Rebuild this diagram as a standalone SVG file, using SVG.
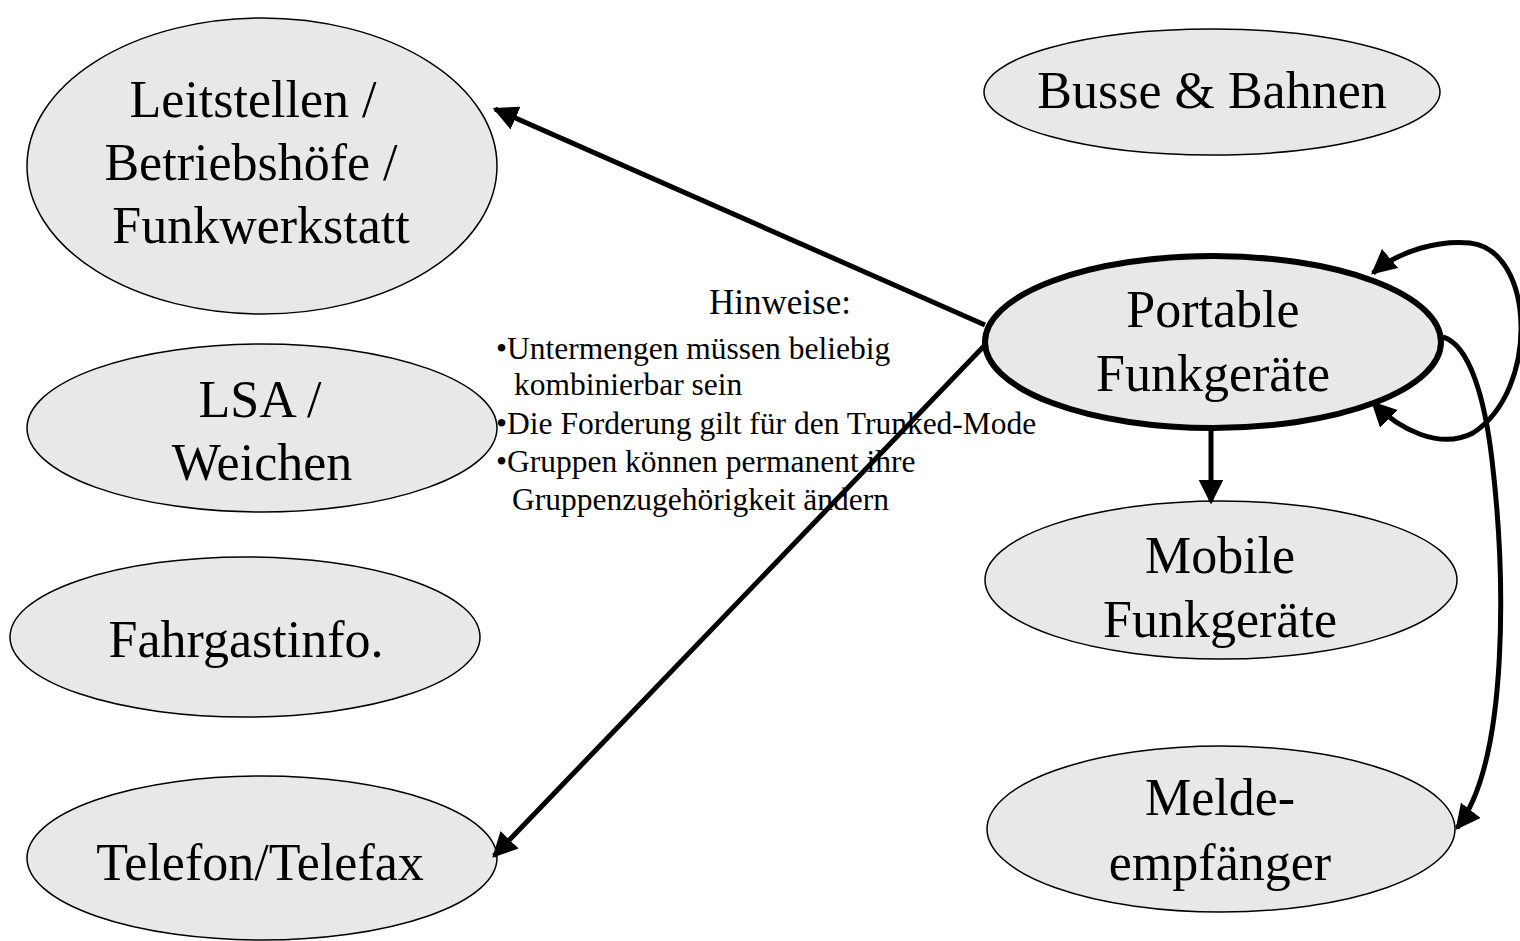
<svg xmlns="http://www.w3.org/2000/svg" width="1520" height="941" viewBox="0 0 1520 941">
<style>
.n{fill:#e8e8e8;stroke:#000;stroke-width:1.5}
.thick{stroke-width:6}
.t{font-family:"Liberation Serif",serif;font-size:52px;text-anchor:middle;fill:#000}
.s{font-family:"Liberation Serif",serif;font-size:31.5px;fill:#000}
.c{fill:none;stroke:#000;stroke-width:5}
</style>
<defs>
<marker id="a" viewBox="0 0 10 10" refX="9" refY="5" markerWidth="5" markerHeight="5" orient="auto-start-reverse" markerUnits="strokeWidth">
<path d="M0,0 L10,5 L0,10 z" fill="#000"/>
</marker>
</defs>
<g id="leitstellen"><ellipse class="n" cx="262" cy="166" rx="235" ry="148"/>
<text class="t" x="253" y="117">Leitstellen /</text><text class="t" x="251" y="180">Betriebshöfe /</text><text class="t" x="261" y="243">Funkwerkstatt</text></g>
<g id="busse"><ellipse class="n" cx="1212" cy="92" rx="228" ry="63"/>
<text class="t" x="1212" y="108">Busse &amp; Bahnen</text></g>
<g id="lsa"><ellipse class="n" cx="262" cy="428" rx="235" ry="84"/>
<text class="t" x="260" y="417">LSA /</text><text class="t" x="262" y="480">Weichen</text></g>
<g id="fahrgast"><ellipse class="n" cx="245" cy="637" rx="235" ry="80"/>
<text class="t" x="246" y="657">Fahrgastinfo.</text></g>
<g id="telefon"><ellipse class="n" cx="262" cy="858" rx="235" ry="82"/>
<text class="t" x="260" y="880">Telefon/Telefax</text></g>
<g id="mobile"><ellipse class="n" cx="1221" cy="580" rx="236" ry="79"/>
<text class="t" x="1220" y="573">Mobile</text><text class="t" x="1220" y="637">Funkgeräte</text></g>
<g id="melde"><ellipse class="n" cx="1221" cy="829" rx="234" ry="83"/>
<text class="t" x="1220" y="815">Melde-</text><text class="t" x="1220" y="880">empfänger</text></g>
<g id="connectors">
<path class="c" d="M985,325 L495,109" marker-end="url(#a)"/>
<path class="c" d="M985,345 L494,856" marker-end="url(#a)"/>
<path class="c" d="M1211,425 L1211,502" marker-end="url(#a)"/>
<path class="c" d="M1373,273 C1400,250 1440,240 1470,243 C1535,250 1540,390 1473,433 C1440,450 1400,430 1373,403" marker-start="url(#a)" marker-end="url(#a)"/>
<path class="c" d="M1443,337 C1470,345 1485,400 1492,460 C1505,570 1510,760 1457,828" marker-end="url(#a)"/>
</g>
<g id="portable"><ellipse class="n thick" cx="1213" cy="342" rx="228" ry="86"/>
<text class="t" x="1213" y="327">Portable</text><text class="t" x="1213" y="391">Funkgeräte</text></g>
<g id="hinweise">
<text class="s" x="780" y="314" style="font-size:35px;text-anchor:middle">Hinweise:</text>
<text class="s" x="496" y="359">•Untermengen müssen beliebig</text>
<text class="s" x="514" y="395">kombinierbar sein</text>
<text class="s" x="496" y="434">•Die Forderung gilt für den Trunked-Mode</text>
<text class="s" x="496" y="472">•Gruppen können permanent ihre</text>
<text class="s" x="512" y="510">Gruppenzugehörigkeit ändern</text>
</g>
</svg>
